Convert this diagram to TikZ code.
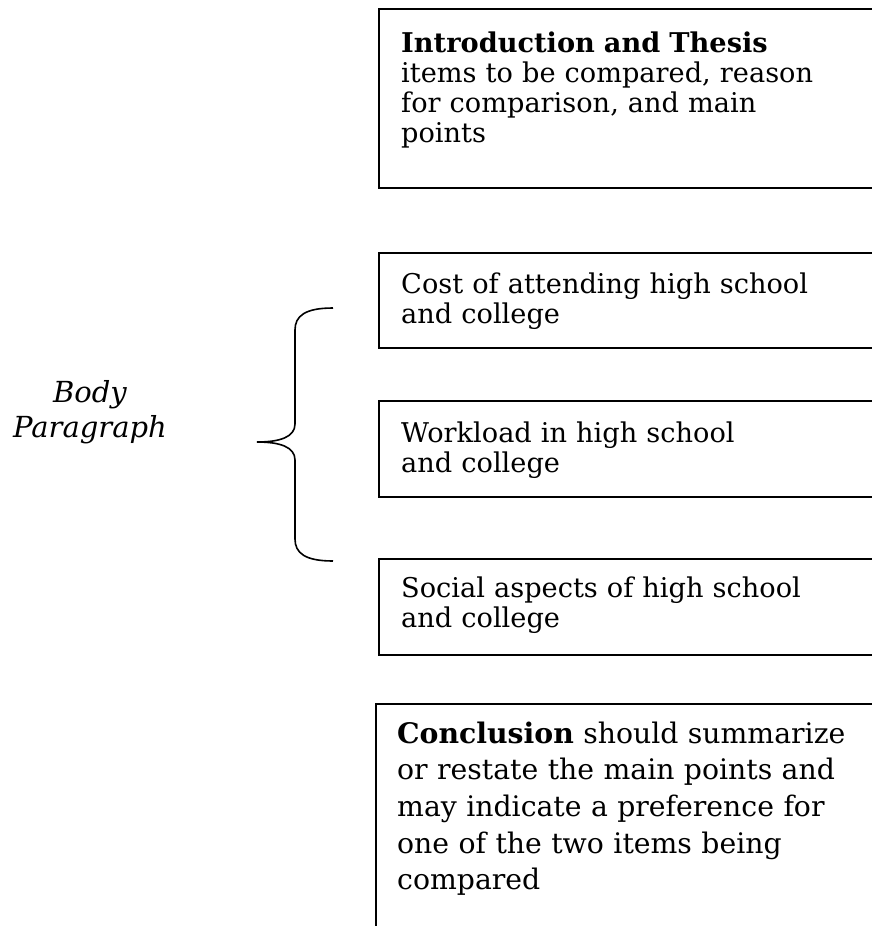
\documentclass[tikz,border=0pt]{standalone}
\usepackage{fontspec}
\setmainfont{DejaVu Serif}
\begin{document}
\begin{tikzpicture}[x=1pt,y=-1pt,
  boxline/.style={draw=black,line width=2.6pt,fill=none},
  boxtext/.style={anchor=base west,inner sep=0pt,text width=480pt,align=left,
    font=\fontsize{27.2}{30}\selectfont},
  bracestyle/.style={draw=black,line width=1.6pt},
  sidetext/.style={anchor=base,inner sep=0pt,align=center,
    font=\fontsize{29}{35}\selectfont\itshape}]
\useasboundingbox (0,0) rectangle (872,926);
\clip (0,0) rectangle (872,926);
% boxes
\path[boxline] (379,9) rectangle (900,188);
\path[boxline] (379,253) rectangle (900,348);
\path[boxline] (379,401) rectangle (900,497);
\path[boxline] (379,559) rectangle (900,655);
\path[boxline] (376,960) -- (376,704) -- (900,704);
% texts
\node[boxtext] (intro) at (401,52) {\textbf{Introduction and Thesis}\\items to be compared, reason\\for comparison, and main\\points};
\node[boxtext] (cost) at (401,293) {Cost of attending high school\\and college};
\node[boxtext] (work) at (401,442) {Workload in high school\\and college};
\node[boxtext] (social) at (401,597) {Social aspects of high school\\and college};
\node[boxtext,font=\fontsize{28.3}{36.7}\selectfont] (concl) at (397,743) {\textbf{Conclusion} should summarize\\or restate the main points and\\may indicate a preference for\\one of the two items being\\compared};
\node[sidetext] (body) at (90,437) {Body\\Paragraph};
% brace
\coordinate (btop) at (333,308);
\coordinate (btip) at (257,442);
\coordinate (bbot) at (333,561);
\path[bracestyle] (btop) .. controls (305,308) and (295,316) .. (295,330)
  -- (295,424) .. controls (295,437) and (280,442) .. (btip)
  .. controls (280,442) and (295,447) .. (295,460)
  -- (295,539) .. controls (295,553) and (305,561) .. (bbot);
\end{tikzpicture}
\end{document}
